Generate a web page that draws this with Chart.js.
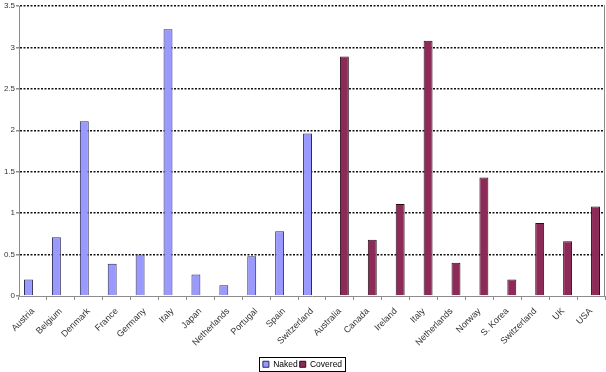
<!DOCTYPE html>
<html>
<head>
<meta charset="utf-8">
<script src="https://cdn.jsdelivr.net/npm/chart.js@4"></script>
<style>
    html, body { margin: 0; padding: 0; background: #fff; }
    #wrap { width: 606px; height: 372px; }
</style>
</head>
<body>
<div id="wrap"><canvas id="chart" width="606" height="372"></canvas></div>
<script>
// categories: naked countries first, then covered ones
const categories = [
    'Austria', 'Belgium', 'Denmark', 'France', 'Germany', 'Italy', 'Japan',
    'Netherlands', 'Portugal', 'Spain', 'Switzerland',
    'Australia', 'Canada', 'Ireland', 'Italy', 'Netherlands', 'Norway',
    'S. Korea', 'Switzerland', 'UK', 'USA',
];
const nakedValues = [
    0.20, 0.71, 2.11, 0.39, 0.50, 3.22, 0.26, 0.13, 0.48, 0.78, 1.96,
    null, null, null, null, null, null, null, null, null, null,
];
const coveredValues = [
    null, null, null, null, null, null, null, null, null, null, null,
    2.89, 0.68, 1.11, 3.08, 0.40, 1.43, 0.20, 0.88, 0.66, 1.08,
];
const yTicks = [0, 0.5, 1, 1.5, 2, 2.5, 3, 3.5];

const font = "'Liberation Sans', Arial, sans-serif";

// gray frame on the right edge, box around the legend items
const framePlugin = {
    id: 'frame',
    afterDraw(chart) {
        const ctx = chart.ctx;
        const area = chart.chartArea;
        ctx.save();
        ctx.strokeStyle = '#8c8c8c';
        ctx.lineWidth = 1;
        ctx.beginPath();
        ctx.moveTo(Math.round(area.right) - 0.5, area.top);
        ctx.lineTo(Math.round(area.right) - 0.5, area.bottom);
        ctx.stroke();

        const boxes = chart.legend && chart.legend.legendHitBoxes;
        if (boxes && boxes.length) {
            const first = boxes[0];
            const last = boxes[boxes.length - 1];
            const x0 = Math.round(first.left) - 3.5;
            const x1 = Math.round(last.left + last.width) + 3.5;
            const y0 = Math.round(first.top) - 2.5;
            const y1 = Math.round(first.top + first.height) + 2.5;
            ctx.strokeStyle = '#000';
            ctx.strokeRect(x0, y0, x1 - x0, y1 - y0);
        }
        ctx.restore();
    },
};

new Chart(document.getElementById('chart'), {
    type: 'bar',
    data: {
        labels: categories,
        datasets: [
            {
                label: 'Naked',
                data: nakedValues,
                backgroundColor: '#9999ff',
                borderColor: '#2b2b55',
                borderWidth: 1,
                categoryPercentage: 0.64,
                barPercentage: 1.0,
            },
            {
                label: 'Covered',
                data: coveredValues,
                backgroundColor: '#8e2a58',
                borderColor: '#2a0b19',
                borderWidth: 1,
                categoryPercentage: 0.64,
                barPercentage: 1.0,
            },
        ],
    },
    options: {
        responsive: false,
        animation: false,
        layout: { padding: { top: 6, right: 1, left: 0, bottom: 0 } },
        plugins: {
            legend: {
                position: 'bottom',
                maxHeight: 14,
                labels: {
                    boxWidth: 6,
                    boxHeight: 6,
                    padding: 2,
                    color: '#000',
                    font: { family: font, size: 8.5 },
                },
            },
            tooltip: { enabled: false },
        },
        scales: {
            x: {
                afterFit(scale) { scale.height = 62; },
                grid: {
                    offset: true,
                    drawOnChartArea: false,
                    drawTicks: true,
                    tickLength: 4,
                    color: '#8c8c8c',
                },
                border: { color: '#8c8c8c', width: 1 },
                ticks: {
                    autoSkip: false,
                    minRotation: 45,
                    maxRotation: 45,
                    padding: 6,
                    color: '#333',
                    font: { family: font, size: 9 },
                },
            },
            y: {
                min: 0,
                max: 3.5,
                afterFit(scale) { scale.width = 19; },
                afterBuildTicks(scale) {
                    scale.ticks = yTicks.map((v) => ({ value: v }));
                },
                grid: {
                    color: (c) => (c.tick && c.tick.value === 0 ? 'rgba(0,0,0,0)' : '#111'),
                    lineWidth: 1.5,
                    drawTicks: true,
                    tickLength: 3,
                    tickColor: '#8c8c8c',
                },
                border: { color: '#8c8c8c', width: 1, dash: [2, 1.5] },
                ticks: {
                    padding: 1,
                    color: '#333',
                    font: { family: font, size: 8 },
                    callback: (v) => String(v),
                },
            },
        },
    },
    plugins: [framePlugin],
});
</script>
</body>
</html>
